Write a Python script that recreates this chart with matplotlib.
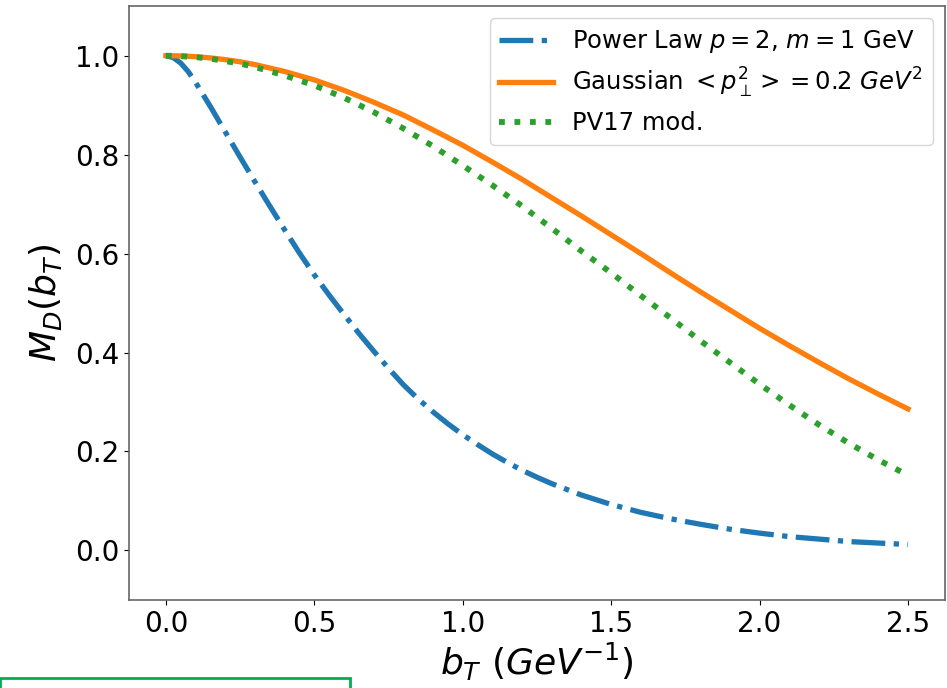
import matplotlib
matplotlib.use("Agg")
import matplotlib.pyplot as plt
from matplotlib.patches import Rectangle

# sampled positions for the two smooth curves
b_T = [0.0, 0.05, 0.1, 0.15, 0.2, 0.25, 0.3, 0.4, 0.5, 0.6, 0.7,
       0.8, 0.9, 1.0, 1.1, 1.2, 1.3, 1.4, 1.5, 1.6, 1.7, 1.8, 1.9, 2.0, 2.1,
       2.2, 2.3, 2.4, 2.5]

gaussian = [1.0, 0.9995, 0.998, 0.9955, 0.992, 0.9876, 0.982,
            0.968, 0.951, 0.930, 0.906, 0.880, 0.850, 0.819, 0.785, 0.750,
            0.713, 0.676, 0.638, 0.600, 0.561, 0.523, 0.486, 0.449, 0.414,
            0.380, 0.347, 0.316, 0.286]

pv17 = [1.0, 0.999, 0.997, 0.994, 0.989, 0.984, 0.977, 0.960,
        0.940, 0.915, 0.886, 0.853, 0.817, 0.778, 0.738, 0.696, 0.651, 0.605,
        0.561, 0.515, 0.470, 0.424, 0.380, 0.336, 0.294, 0.254, 0.217, 0.183,
        0.152]

# power law is sampled more densely where it bends
b_T_power = [0.0, 0.025, 0.05, 0.075, 0.1, 0.15, 0.2, 0.25, 0.3, 0.35, 0.4,
             0.45, 0.5, 0.55, 0.6, 0.65, 0.7, 0.75, 0.8, 0.85, 0.9, 0.95, 1.0,
             1.05, 1.1, 1.15, 1.2, 1.25, 1.3, 1.4, 1.5, 1.6, 1.7, 1.8, 1.9,
             2.0, 2.1, 2.2, 2.3, 2.4, 2.5]

power_law = [1.0, 0.996, 0.985, 0.968, 0.946, 0.897, 0.846, 0.795, 0.745,
             0.696, 0.648, 0.601, 0.557, 0.516, 0.477, 0.439, 0.403, 0.368,
             0.335, 0.306, 0.280, 0.256, 0.234, 0.214, 0.195, 0.178, 0.162,
             0.148, 0.135, 0.112, 0.093, 0.077, 0.064, 0.053, 0.043, 0.035,
             0.028, 0.023, 0.018, 0.015, 0.012]

labels = [r"Power Law $p=2$, $m=1$ GeV",
          r"Gaussian $<p_{\perp}^2> = 0.2\ GeV^2$",
          r"PV17 mod."]

fig = plt.figure(figsize=(9.47, 6.88), dpi=100)
ax = fig.add_axes([0.136, 0.128, 0.862, 0.863])

ax.plot(b_T_power, power_law, linestyle="-.", color="tab:blue", lw=3.8, label=labels[0])
ax.plot(b_T, gaussian, linestyle="-", color="tab:orange", lw=3.8, label=labels[1])
ax.plot(b_T, pv17, linestyle=":", color="tab:green", lw=4.2, label=labels[2])

ax.set_ylim(-0.1, 1.1)
ax.set_xlim(-0.125, 2.625)
ax.set_xticks([0.0, 0.5, 1.0, 1.5, 2.0, 2.5])
ax.set_yticks([0.0, 0.2, 0.4, 0.6, 0.8, 1.0])
ax.tick_params(labelsize=20)
ax.set_xlabel(r"$b_T\ (GeV^{-1})$", fontsize=26, labelpad=2)
ax.set_ylabel(r"$M_D(b_T)$", fontsize=26, labelpad=8)
for s in ax.spines.values():
    s.set_color("#666666")
    s.set_linewidth(1.2)

ax.legend(loc="upper right", fontsize=17.5, borderpad=0.4, handlelength=2.2,
          labelspacing=0.45)

fig.patches.append(Rectangle((0.0, -0.05), 350 / 947, 0.05 + 10 / 688,
                             transform=fig.transFigure, fill=False,
                             edgecolor="#00b050", lw=2, clip_on=False))

fig.savefig("out.png", dpi=100)
